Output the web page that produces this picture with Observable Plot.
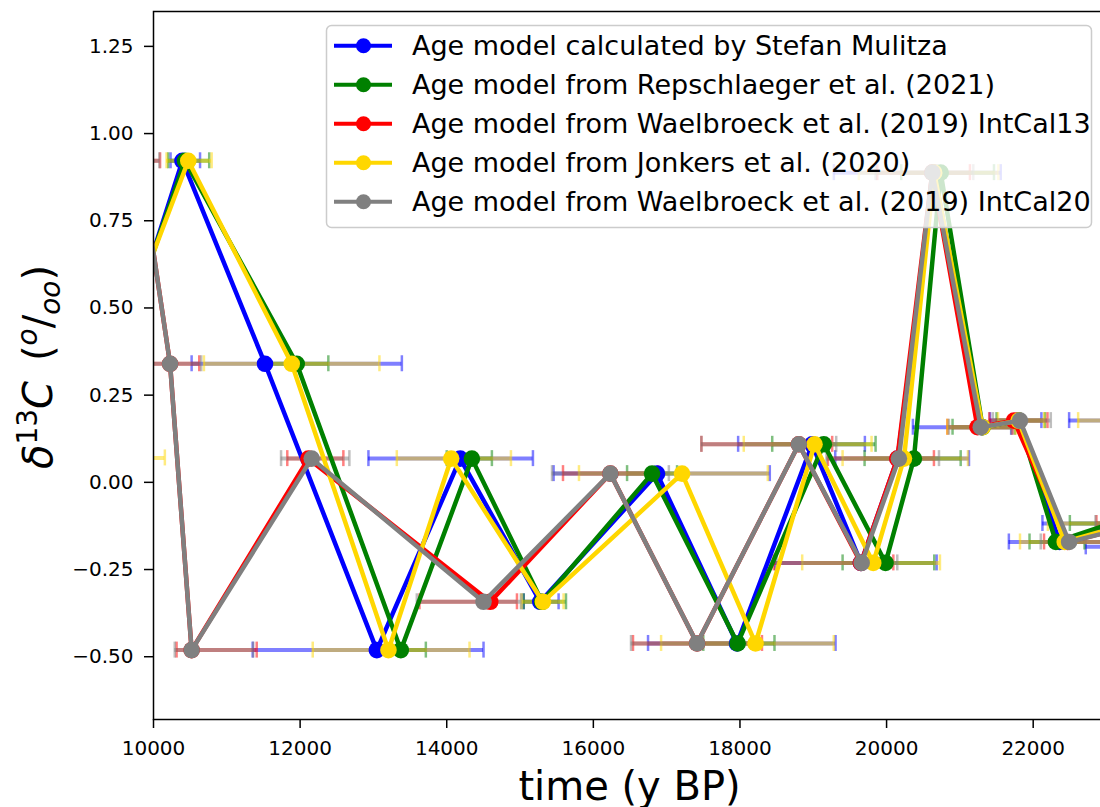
<!DOCTYPE html>
<html><head><meta charset="utf-8">
<script src="https://cdn.jsdelivr.net/npm/d3@7"></script>
<script src="https://cdn.jsdelivr.net/npm/@observablehq/plot@0.6"></script>
<style>
html,body{margin:0;padding:0;background:#fff;overflow:hidden;width:1100px;height:807px}
#chart{position:relative;width:1106px;height:807px}
svg{font-family:"DejaVu Sans",sans-serif}
</style></head><body><div id="chart"></div>
<script>
// δ13C value of each sample (same samples in every age model, ordered by depth)
const d13C = [0.07, 0.922, 0.34, -0.481, 0.068, -0.3425, 0.025, -0.462, 0.109, -0.231, 0.068, 0.888, 0.158, 0.177, -0.171, -0.118, 0.177, -0.185];

const seriesNames = [
  "Age model calculated by Stefan Mulitza",
  "Age model from Repschlaeger et al. (2021)",
  "Age model from Waelbroeck et al. (2019) IntCal13",
  "Age model from Jonkers et al. (2020)",
  "Age model from Waelbroeck et al. (2019) IntCal20"
];
const seriesColors = ["#0000ff", "#008000", "#ff0000", "#ffd700", "#808080"];

// Mulitza
const mulitzaAge = [9094, 10395, 11521, 13046, 14184, 15276, 16869, 17960, 18985, 19650, 20150, 20650, 21300, 21800, 22360, 23150, 23500, 23700];
const mulitzaMin = [8300, 10233, 10520, 11353, 12932, 15050, 15458, 16746, 17975, 18480, 19300, 19281, 20359, 21411, 21668, 22126, 22490, 22717];
const mulitzaMax = [9700, 10635, 13388, 14502, 15176, 15526, 18407, 19304, 19704, 20683, 21124, 21557, 21700, 22112, 23400, 24200, 24400, 24600];
// Repschlaeger
const repAge = [9030, 10430, 11954, 13374, 14343, 15300, 16801, 17968, 19144, 19986, 20373, 20738, 21310, 21800, 22310, 23060, 23600, 23800];
const repMin = [8300, 10200, 11500, 13030, 14000, 15050, 16460, 17500, 18440, 19400, 19700, 20200, 20900, 21500, 21950, 22500, 23100, 23200];
const repMax = [9700, 10760, 12385, 13715, 14616, 15627, 17142, 18471, 19850, 20650, 21011, 21465, 21750, 22160, 22700, 23600, 24000, 24200];
// Waelbroeck IntCal13
const wIC13Age = [8000, 9813, 10226, 10520, 12113, 14594, 16232, 17415, 18803, 19650, 20146, 20624, 21240, 21738, 22470, 23500, 23800, 24000];
const wIC13Min = [7000, 9500, 9800, 10315, 11825, 13628, 15586, 16541, 17474, 18461, 19200, 19873, 20829, 21400, 22148, 22863, 23200, 23300];
const wIC13Max = [9000, 10090, 10624, 11408, 12590, 14958, 16880, 18300, 19258, 20092, 20646, 21137, 21717, 22195, 23200, 24000, 24300, 24400];
// Jonkers
const jonAge = [8940, 10474, 11886, 13205, 14061, 15312, 17210, 18212, 19017, 19818, 20237, 20650, 21310, 21800, 22430, 23300, 23600, 23800];
const jonMin = [7800, 10178, 10688, 12172, 13319, 15020, 15804, 16924, 18052, 18849, 19400, 19622, 20829, 21520, 21820, 22200, 22613, 23100];
const jonMax = [10155, 10793, 13082, 14311, 14876, 15594, 18380, 19280, 19795, 20728, 21110, 21525, 21760, 22150, 23300, 24200, 24400, 24500];
// Waelbroeck IntCal20
const wIC20Age = [8000, 9813, 10226, 10520, 12158, 14502, 16232, 17415, 18803, 19660, 20168, 20624, 21285, 21820, 22490, 23500, 23800, 24000];
const wIC20Min = [7000, 9500, 9780, 10290, 11740, 13592, 15436, 16514, 17474, 18500, 19180, 19850, 20850, 21450, 22103, 22850, 23200, 23300];
const wIC20Max = [9000, 10080, 10650, 11360, 12672, 15012, 17030, 18250, 19313, 20146, 20715, 21183, 21700, 22240, 23300, 24000, 24300, 24400];

const xTicks = [10000, 12000, 14000, 16000, 18000, 20000, 22000];
const yTicks = [-0.5, -0.25, 0, 0.25, 0.5, 0.75, 1.0, 1.25];
const xDomain = [10000, 23000];
const yDomain = [-0.68, 1.35];

const ages = [mulitzaAge, repAge, wIC13Age, jonAge, wIC20Age];
const mins = [mulitzaMin, repMin, wIC13Min, jonMin, wIC20Min];
const maxs = [mulitzaMax, repMax, wIC13Max, jonMax, wIC20Max];

const W = 1106, H = 807, mL = 153, mR = 0, mT = 11, mB = 88;
const capHalf = 8 * (yDomain[1] - yDomain[0]) / (H - mT - mB);

const series = seriesNames.map((name, k) => ({
  name, color: seriesColors[k],
  rows: d13C.map((v, i) => ({v, age: ages[k][i], lo: mins[k][i], hi: maxs[k][i]}))
}));

const barMarks = series.flatMap(s => [
  Plot.ruleY(s.rows, {y: "v", x1: "lo", x2: "hi", stroke: s.color, strokeOpacity: 0.5, strokeWidth: 4, clip: true}),
  Plot.ruleX(s.rows, {x: "lo", y1: d => d.v - capHalf, y2: d => d.v + capHalf, stroke: s.color, strokeOpacity: 0.5, strokeWidth: 2.5, clip: true}),
  Plot.ruleX(s.rows, {x: "hi", y1: d => d.v - capHalf, y2: d => d.v + capHalf, stroke: s.color, strokeOpacity: 0.5, strokeWidth: 2.5, clip: true})
]);
const lineMarks = series.flatMap(s => [
  Plot.line(s.rows, {x: "age", y: "v", stroke: s.color, strokeWidth: 4.5, clip: true}),
  Plot.dot(s.rows, {x: "age", y: "v", fill: s.color, r: 8.3, clip: true})
]);

const svgEl = Plot.plot({
  width: W, height: H,
  marginLeft: mL, marginRight: mR, marginTop: mT, marginBottom: mB,
  style: {fontFamily: "DejaVu Sans", fontSize: "20px", background: "white", color: "black", overflow: "visible"},
  x: {domain: xDomain, ticks: xTicks, tickFormat: d => String(d), tickSize: 9, tickPadding: 12, label: null},
  y: {domain: yDomain, ticks: yTicks, tickFormat: d3.format(".2f"), tickSize: 9, tickPadding: 11, label: null},
  marks: [
    ...barMarks,
    ...lineMarks,
    Plot.frame({stroke: "black", strokeWidth: 1.5})
  ]
});
document.getElementById("chart").appendChild(svgEl);

const svg = d3.select(svgEl);
svg.selectAll("g[aria-label='x-axis tick'] path, g[aria-label='y-axis tick'] path").attr("stroke-width", 1.5);

// x label
svg.append("text").attr("x", (mL + W - mR) / 2).attr("y", 800)
  .attr("text-anchor", "middle").attr("font-size", 40).attr("fill", "black")
  .text("time (y BP)");

// y label: δ13C (o/oo)
const yl = svg.append("text").attr("transform", "translate(52,367) rotate(-90)")
  .attr("text-anchor", "middle").attr("font-size", 40).attr("fill", "black");
yl.append("tspan").attr("font-style", "italic").text("δ");
yl.append("tspan").attr("font-size", 28).attr("dy", -15).text("13");
yl.append("tspan").attr("font-style", "italic").attr("dy", 15).text("C");
yl.append("tspan").text("\u2002(");
yl.append("tspan").attr("font-style", "italic").attr("font-size", 28).attr("dy", -15).text("o");
yl.append("tspan").attr("dy", 15).text("/");
yl.append("tspan").attr("font-style", "italic").attr("font-size", 28).attr("dy", 8).text("oo");
yl.append("tspan").attr("dy", -8).text(")");

// legend
const lg = svg.append("g").attr("text-anchor", "start");
lg.append("rect").attr("x", 326.5).attr("y", 25.5).attr("width", 765).attr("height", 202).attr("rx", 5)
  .attr("fill", "white").attr("fill-opacity", 0.8).attr("stroke", "#cccccc").attr("stroke-width", 1.5);
seriesNames.forEach((n, i) => {
  const cy = 45.7 + i * 39;
  lg.append("line").attr("x1", 334).attr("x2", 392).attr("y1", cy).attr("y2", cy)
    .attr("stroke", seriesColors[i]).attr("stroke-width", 4);
  lg.append("circle").attr("cx", 363.5).attr("cy", cy).attr("r", 7.5).attr("fill", seriesColors[i]);
  lg.append("text").attr("x", 412).attr("y", cy).attr("dy", "0.36em").attr("text-anchor", "start")
    .attr("font-size", 27).attr("fill", "black").text(n);
});
</script></body></html>
